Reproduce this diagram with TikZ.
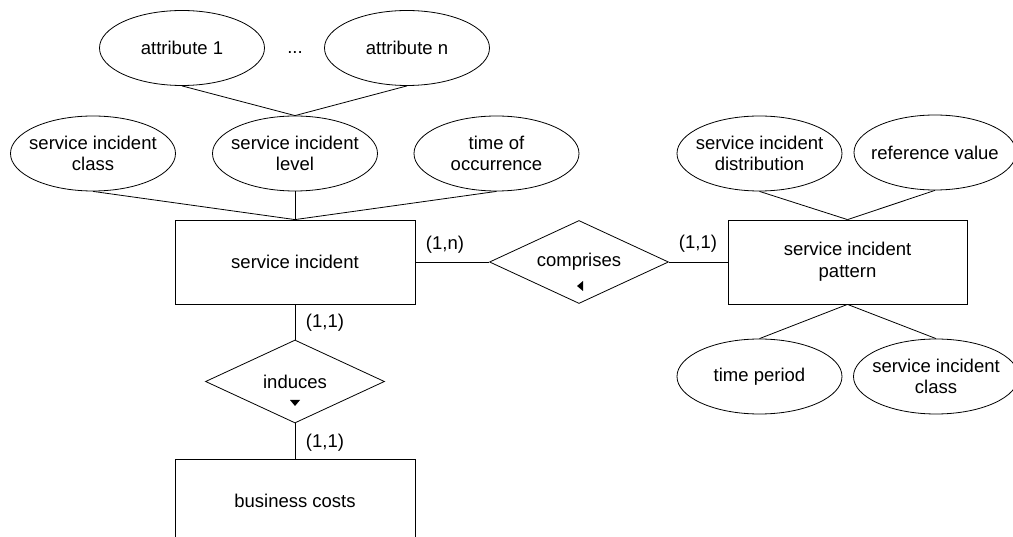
\documentclass[tikz,border=0pt]{standalone}
\usepackage{fontspec}
\setmainfont{Liberation Sans}
\usetikzlibrary{shapes.geometric}
\begin{document}
\begin{tikzpicture}[x=1pt,y=-1pt,line width=0.8pt,
  every node/.style={font=\fontsize{18.5}{21.7}\selectfont},
  attr/.style={ellipse,draw,minimum width=165pt,minimum height=75pt,inner sep=0pt},
  entity/.style={rectangle,draw,minimum width=240pt,minimum height=84pt,inner sep=0pt,align=center},
  relation/.style={diamond,draw,minimum width=179pt,minimum height=83pt,inner sep=0pt},
  txt/.style={align=center,inner sep=0pt},
  card/.style={inner sep=0pt}]
\useasboundingbox (0,0) rectangle (1013,537);
\clip (0,0) rectangle (1013,537);

% attributes of the service incident level
\node[attr,label={[txt,name=a1t]center:attribute 1}] (a1) at (182,48) {};
\node[attr,label={[txt,name=ant]center:attribute n}] (an) at (407,48) {};
\node[inner sep=0pt,anchor=base] (dots) at (295,54) {...};

% attributes of the service incident
\node[attr,label={[txt,name=sict]center:service incident\\class}] (sic) at (93,153.5) {};
\node[attr,label={[txt,name=silt]center:service incident\\level}] (sil) at (295,153.5) {};
\node[attr,label={[txt,name=toot]center:time of\\occurrence}] (too) at (496.5,153.5) {};

% entities
\node[entity] (si) at (295,262) {service incident};
\node[entity,minimum width=239pt] (sip) at (847.5,262) {service incident\\pattern};
\node[entity] (bc) at (295,501) {business costs};

% relationships
\node[relation,label={[txt,name=cmpt]center:comprises}] (cmp) at (579,262) {};
\node[relation,label={[txt,name=indt]center:induces}] (ind) at (295,381.5) {};

% attributes of the service incident pattern
\node[attr,label={[txt,name=sidt]center:service incident\\distribution}] (sid) at (759.5,153.5) {};
\node[attr,minimum width=162pt,label={[txt,name=rvt]center:reference value}] (rv) at (935,152.5) {};
\node[attr,label={[txt,name=tpt]center:time period}] (tp) at (759.5,376.5) {};
\node[attr,label={[txt,name=sic2t]center:service incident\\class}] (sic2) at (936,376.5) {};

% connectors
\draw (a1.south) -- (sil.north);
\draw (an.south) -- (sil.north);
\draw (sic.south) -- (si.north);
\draw (sil.south) -- (si.north);
\draw (too.south) -- (si.north);
\draw (si.east) -- (cmp.west);
\draw (cmp.east) -- (sip.west);
\draw (sid.south) -- (sip.north);
\draw (rv.south) -- (sip.north);
\draw (sip.south) -- (tp.north);
\draw (sip.south) -- (sic2.north);
\draw (si.south) -- (ind.north);
\draw (ind.south) -- (bc.north);

% cardinalities
\node[card] (c1) at (445,245) {(1,n)};
\node[card] (c2) at (698,244) {(1,1)};
\node[card] (c3) at (325,323) {(1,1)};
\node[card] (c4) at (325,443) {(1,1)};

% reading direction markers
\fill (577,286) -- (583,281) -- (583,291) -- cycle;
\fill (295,406) -- (290,400) -- (300,400) -- cycle;
\end{tikzpicture}
\end{document}
